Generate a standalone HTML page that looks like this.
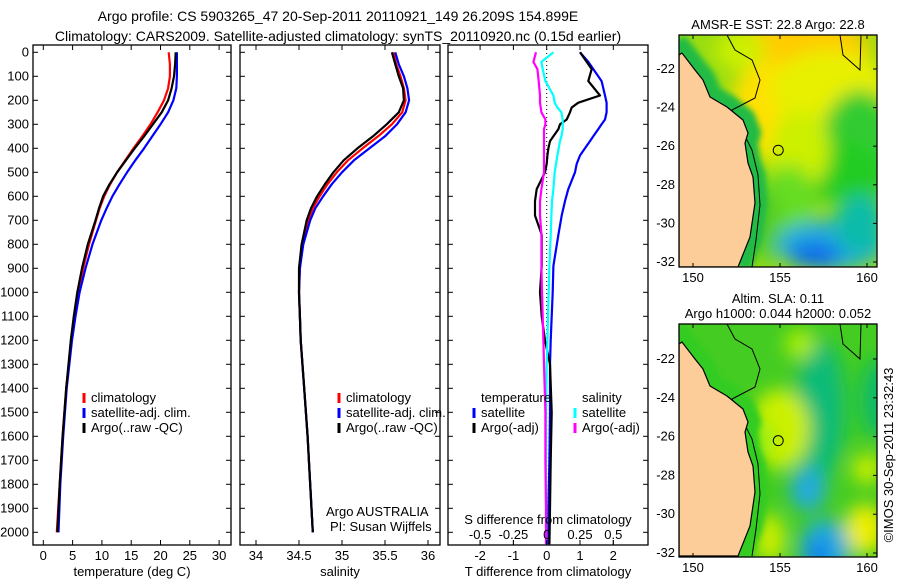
<!DOCTYPE html>
<html><head><meta charset="utf-8">
<style>
html,body{margin:0;padding:0;background:#fff;}
svg{display:block;font-family:"Liberation Sans",sans-serif;}
text{font-size:13px;fill:#000;}
.ttl{font-size:14px;}
</style></head>
<body>
<svg id="c" width="900" height="580" viewBox="0 0 900 580" xmlns="http://www.w3.org/2000/svg">
<defs>
<filter id="blur" x="-50%" y="-50%" width="200%" height="200%"><feGaussianBlur stdDeviation="9"/></filter>
<filter id="blur2" x="-50%" y="-50%" width="200%" height="200%"><feGaussianBlur stdDeviation="3"/></filter>
<clipPath id="clipTop"><rect x="679" y="35" width="198" height="232"/></clipPath>
<clipPath id="clipBot"><rect x="679" y="324" width="198" height="233"/></clipPath>
</defs>
<text class="ttl" x="338" y="21" text-anchor="middle">Argo profile: CS 5903265_47 20-Sep-2011 20110921_149 26.209S 154.899E</text>
<text class="ttl" x="338" y="41" text-anchor="middle">Climatology: CARS2009. Satellite-adjusted climatology: synTS_20110920.nc (0.15d earlier)</text>
<g id="plots"></g>
<g id="maps"></g>
<text transform="translate(893,455) rotate(-90)" text-anchor="middle">©IMOS 30-Sep-2011 23:32:43</text>
</svg>
<script>
// ---- data ----
const depthTicks=[0,100,200,300,400,500,600,700,800,900,1000,1100,1200,1300,1400,1500,1600,1700,1800,1900,2000];
const tTicks=[0,5,10,15,20,25,30];
const sTicks=[34,34.5,35,35.5,36];
const dTTicks=[-2,-1,0,1,2];
const dSTicks=[-0.5,-0.25,0,0.25,0.5];
const depths=[0,50,100,150,200,250,300,350,400,450,500,550,600,650,700,800,900,1000,1100,1200,1400,1600,1800,2000];
const tempArgo=[22.6,22.5,22.3,21.9,21.3,20.2,18.7,17.2,15.6,14.1,12.6,11.3,10.2,9.5,8.9,7.6,6.6,5.8,5.2,4.7,3.9,3.3,2.8,2.4];
const tempClim=[21.4,21.6,21.6,21.3,20.6,19.5,18.3,16.9,15.4,14.0,12.6,11.4,10.4,9.6,9.0,7.8,6.8,6.0,5.3,4.8,3.9,3.3,2.8,2.3];
const tempSat=[22.8,22.8,22.8,22.7,22.2,21.3,20.0,18.6,17.2,15.7,14.3,13.0,11.8,10.8,9.9,8.4,7.2,6.2,5.5,4.9,4.0,3.4,2.9,2.6];
const salArgo=[35.58,35.62,35.66,35.71,35.72,35.66,35.52,35.36,35.18,35.02,34.9,34.8,34.71,34.64,34.59,34.53,34.5,34.5,34.51,34.52,34.56,34.6,34.63,34.66];
const salClim=[35.6,35.63,35.68,35.72,35.74,35.7,35.58,35.42,35.24,35.07,34.94,34.83,34.74,34.66,34.61,34.54,34.51,34.5,34.51,34.52,34.56,34.6,34.63,34.66];
const salSat=[35.62,35.66,35.72,35.76,35.78,35.74,35.64,35.5,35.32,35.14,35.0,34.88,34.78,34.69,34.63,34.55,34.51,34.5,34.51,34.52,34.56,34.6,34.63,34.66];
const dDepths=[0,40,70,120,180,210,230,250,280,300,320,350,370,400,430,465,500,570,620,680,760,890,1000,1100,1200,1300,1500,1700,1900,2050];
const dTSat=[1.0,1.25,1.4,1.65,1.75,1.8,1.8,1.8,1.75,1.65,1.55,1.4,1.3,1.15,1.0,0.9,0.85,0.65,0.55,0.45,0.35,0.2,0.18,0.15,0.12,0.1,0.1,0.08,0.05,0.05];
const dTArgo=[1.0,1.2,1.35,1.25,1.6,0.95,0.75,0.7,0.6,0.4,0.35,0.2,0.1,0.05,0.02,0.0,-0.05,-0.3,-0.35,-0.35,-0.15,-0.15,-0.2,-0.15,-0.05,0.1,0.15,0.12,0.1,0.08];
const dSSat=[0.05,-0.04,-0.03,-0.01,0.05,0.06,0.08,0.11,0.12,0.12,0.12,0.11,0.1,0.09,0.08,0.07,0.06,0.05,0.04,0.035,0.03,0.02,0.015,0.01,0.005,0.0,-0.005,-0.005,-0.005,-0.005];
const dSArgo=[-0.08,-0.1,-0.07,-0.06,-0.05,-0.05,-0.045,-0.04,-0.01,-0.01,-0.02,-0.02,-0.02,-0.02,-0.02,-0.02,-0.02,-0.04,-0.05,-0.05,-0.04,-0.04,-0.035,-0.03,-0.025,-0.02,-0.01,-0.01,-0.005,-0.005];
const mapLonTicks=[150,155,160];
const mapLatTicks=[-22,-24,-26,-28,-30,-32];
const argoLon=154.899, argoLat=-26.209;

const NS="http://www.w3.org/2000/svg";
function el(tag,attrs,parent){const e=document.createElementNS(NS,tag);for(const k in attrs)e.setAttribute(k,attrs[k]);parent.appendChild(e);return e;}
const plots=document.getElementById('plots');
const Y0=52.3,YS=0.24,TOP=45,BOT=545;
const yD=d=>Y0+d*YS;
const xT=t=>43.3+t*5.86;
const xS=s=>256+(s-34)*86;
const xDT=v=>546.7+v*33.3;
const xDS=v=>546.7+v*133.2;

function frame(x0,x1,name){
  const r=el('rect',{x:x0,y:TOP,width:x1-x0,height:BOT-TOP,fill:'none',stroke:'#000','stroke-width':1.3},plots);
  
  
  depthTicks.forEach(d=>{
    el('line',{x1:x0,x2:x0+5,y1:yD(d),y2:yD(d),stroke:'#000'},plots);
    el('line',{x1:x1,x2:x1-5,y1:yD(d),y2:yD(d),stroke:'#000'},plots);
  });
}
function xticks(vals,fx,x0,name,labels){
  vals.forEach((v,i)=>{
    const x=fx(v);
    el('line',{x1:x,x2:x,y1:BOT,y2:BOT-5,stroke:'#000'},plots);
    el('line',{x1:x,x2:x,y1:TOP,y2:TOP+5,stroke:'#000'},plots);
    const t=el('text',{x:x,y:560,'text-anchor':'middle'},plots);
    t.textContent=labels?labels[i]:String(v);
    
    
  });
}
function line(xs,ds,fx,color,w,name){
  const pts=xs.map((v,i)=>fx(v).toFixed(1)+','+yD(ds[i]).toFixed(1)).join(' ');
  const p=el('polyline',{points:pts,fill:'none',stroke:color,'stroke-width':w,'stroke-linejoin':'round'},plots);
  
  
}
function label(x,y,s,name,anchor){
  const t=el('text',{x:x,y:y,'text-anchor':anchor||'start'},plots);t.textContent=s;
  
  
  return t;
}
function legend(x,y,color,s,name){
  el('line',{x1:x,x2:x,y1:y-9,y2:y+1,stroke:color,'stroke-width':3},plots);
  label(x+7,y,s,name);
}

// Panel 1
frame(33,231,'temperature-panel');
depthTicks.forEach(d=>{label(29,yD(d)+4,String(d),'depth-tick-label','end');});
xticks(tTicks,xT,33,'temperature');
line(tempClim,depths,xT,'#f00',2.2,'temp-climatology-line');
line(tempSat,depths,xT,'#00f',2.2,'temp-satellite-line');
line(tempArgo,depths,xT,'#000',2.2,'temp-argo-line');
label(132,576,'temperature (deg C)','x-axis-title-temperature','middle');
legend(84,402,'#f00','climatology','legend-climatology');
legend(84,417,'#00f','satellite-adj. clim.','legend-satellite');
legend(84,432,'#000','Argo(..raw -QC)','legend-argo');

// Panel 2
frame(240,440,'salinity-panel');
xticks(sTicks,xS,240,'salinity');
line(salClim,depths,xS,'#f00',2.2,'sal-climatology-line');
line(salSat,depths,xS,'#00f',2.2,'sal-satellite-line');
line(salArgo,depths,xS,'#000',2.2,'sal-argo-line');
label(340,576,'salinity','x-axis-title-salinity','middle');
legend(339,402,'#f00','climatology','legend2-climatology');
legend(339,417,'#00f','satellite-adj. clim.','legend2-satellite');
legend(339,432,'#000','Argo(..raw -QC)','legend2-argo');
label(326,516,'Argo AUSTRALIA','argo-australia-label');
label(330,531,'PI: Susan Wijffels','pi-label');

// Panel 3
frame(448,648,'difference-panel');
xticks(dTTicks,xDT,448,'t-diff');
el('line',{x1:546.7,x2:546.7,y1:TOP,y2:BOT,stroke:'#000','stroke-dasharray':'1,3'},plots);
line(dTSat,dDepths,xDT,'#00f',2.2,'tdiff-satellite-line');
line(dTArgo,dDepths,xDT,'#000',2.2,'tdiff-argo-line');
line(dSSat,dDepths,xDS,'#0ff',2.2,'sdiff-satellite-line');
line(dSArgo,dDepths,xDS,'#f0f',2.2,'sdiff-argo-line');
label(548,576,'T difference from climatology','x-axis-title-tdiff','middle');
label(548,524,'S difference from climatology','sdiff-axis-title','middle');
dSTicks.forEach((v,i)=>{label(xDS(v),539,['-0.5','-0.25','0','0.25','0.5'][i],'sdiff-tick-label','middle');
  el('line',{x1:xDS(v),x2:xDS(v),y1:BOT,y2:BOT-5,stroke:'#000'},plots);});
label(481,402,'temperature','legend3-temperature-head');
legend(474,417,'#00f','satellite','legend3-t-satellite');
legend(474,432,'#000','Argo(-adj)','legend3-t-argo');
label(582,402,'salinity','legend3-salinity-head');
legend(575,417,'#0ff','satellite','legend3-s-satellite');
legend(575,432,'#f0f','Argo(-adj)','legend3-s-argo');

// ---- maps ----
const maps=document.getElementById('maps');
const coast=[[679,55],[682,53],[695,70],[703,80],[710,97],[727,107],[743,120],[748,133],[745,143],[748,163],[753,177],[755,203],[750,237],[738,267],[679,267]];
const isobath=[[727,35],[735,50],[752,60],[760,80],[755,98],[732,110],[742,130],[752,150],[758,175],[760,205],[756,240],[752,267]];
function drawMap(y0,h,lat22,lat32,clip,blobs,bg,strip,name,title1,title2){
  const g=el('g',{'clip-path':'url(#'+clip+')'},maps);
  
  
  el('rect',{x:679,y:y0,width:198,height:h,fill:bg},g);
  const b=el('g',{filter:'url(#blur)'},g);
  blobs.forEach(o=>el('ellipse',{cx:o[0],cy:o[1]+y0-35,rx:o[2],ry:o[3],fill:o[4]},b));
  const dy=y0-35;
  el('polyline',{points:coast.slice(0,14).map(p=>p[0]+','+(p[1]+dy)).join(' '),fill:'none',stroke:strip,'stroke-width':26,filter:'url(#blur2)'},g);
  el('polyline',{points:isobath.map(p=>p[0]+','+(p[1]+dy)).join(' '),fill:'none',stroke:'#000','stroke-width':1},g);
  el('polyline',{points:[[840,35],[843,55],[860,70],[861,35]].map(p=>p[0]+','+(p[1]+dy)).join(' '),fill:'none',stroke:'#000'},g);
  el('polygon',{points:coast.map(p=>p[0]+','+(p[1]+dy)).join(' '),fill:'#fccc99',stroke:'#000','stroke-width':1.2},g);
  el('rect',{x:679,y:y0,width:198,height:h,fill:'none',stroke:'#000','stroke-width':1.3},maps);
  const xL=lon=>693+(lon-150)*17.4;
  const yL=lat=>lat22+(-22-lat)*(lat32-lat22)/10;
  el('circle',{cx:xL(argoLon),cy:yL(argoLat),r:5,fill:'none',stroke:'#000'},maps);
  mapLonTicks.forEach(v=>{el('line',{x1:xL(v),x2:xL(v),y1:y0,y2:y0+4,stroke:'#000'},maps);
    el('line',{x1:xL(v),x2:xL(v),y1:y0+h,y2:y0+h-4,stroke:'#000'},maps);
    const t=el('text',{x:xL(v),y:y0+h+15,'text-anchor':'middle'},maps);t.textContent=v;});
  mapLatTicks.forEach(v=>{el('line',{x1:877,x2:873,y1:yL(v),y2:yL(v),stroke:'#000'},maps);
    const t=el('text',{x:675,y:yL(v)+4,'text-anchor':'end'},maps);t.textContent=v;});
  const t1=el('text',{x:778,y:y0-6-(title2?15:0),'text-anchor':'middle'},maps);t1.textContent=title1;
  if(title2){const t2=el('text',{x:778,y:y0-6,'text-anchor':'middle'},maps);t2.textContent=title2;}
}
drawMap(35,232,69,262,'clipTop',[
  [800,50,70,35,'#ffcc00'],[770,110,40,50,'#ffe000'],[830,90,60,40,'#e8f000'],
  [860,150,40,60,'#33cc33'],[830,170,50,30,'#22cc22'],[800,150,30,40,'#ccf000'],
  [790,200,25,35,'#66dd22'],[830,245,55,25,'#22aadd'],[815,255,25,12,'#1166ee'],
  [860,225,25,30,'#11bbaa'],[765,225,15,40,'#55cc22'],
  [740,50,25,20,'#ccf000']
],'#99dd11','#22bb44','sst-map','AMSR-E SST: 22.8 Argo: 22.8');
drawMap(324,233,359,553,'clipBot',[
  [820,120,25,70,'#11bb77'],[780,140,30,40,'#ccf000'],[808,200,18,22,'#22aadd'],
  [825,260,25,30,'#22aadd'],[818,265,10,15,'#1177ee'],[865,240,20,25,'#eeee00'],
  [867,180,15,15,'#ccee00'],[770,250,15,25,'#ccee00'],[880,110,20,40,'#11bb66'],
  [800,55,15,15,'#aaee00'],[760,150,15,20,'#99ee11']
],'#44cc22','#33cc22','sla-map','Altim. SLA: 0.11','Argo h1000: 0.044 h2000: 0.052');
</script>
</body></html>
